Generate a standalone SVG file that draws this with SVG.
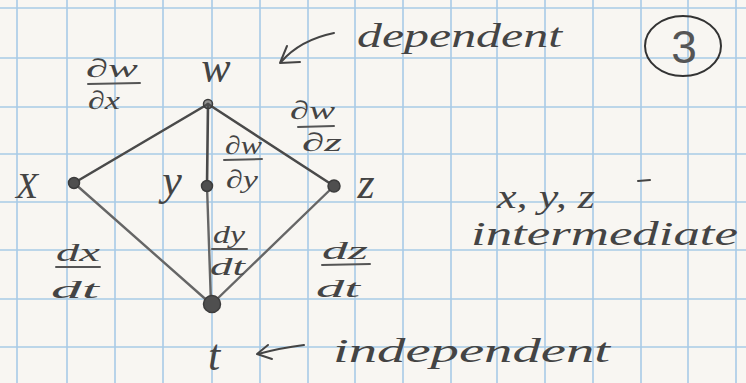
<svg xmlns="http://www.w3.org/2000/svg" width="746" height="383" viewBox="0 0 746 383">
<defs>
<style>
.grid line{stroke:#a8cbe6;stroke-width:1.6}
.edge{stroke:#4a4a4a;stroke-width:2.6;fill:none;stroke-linecap:round}
.edge2{stroke:#666;stroke-width:2.4;fill:none;stroke-linecap:round}
.dot{fill:#4f4f4f;stroke:#3c3c3c;stroke-width:1.5}
.t{font-family:"Liberation Serif","DejaVu Serif",serif;font-style:italic;fill:#444}
.lbl{font-size:36px}
.big{font-size:44px}
.frac{font-size:26px}
.bar{stroke:#555;stroke-width:2;stroke-linecap:round}
.pen{stroke:#444;stroke-width:2;fill:none;stroke-linecap:round;stroke-linejoin:round}
</style>
</defs>
<rect width="746" height="383" fill="#f8f6f2"/>
<g class="grid">
<line x1="17" y1="0" x2="17" y2="383"/><line x1="67" y1="0" x2="67" y2="383"/><line x1="115" y1="0" x2="115" y2="383"/><line x1="163" y1="0" x2="163" y2="383"/><line x1="212" y1="0" x2="212" y2="383"/><line x1="260" y1="0" x2="260" y2="383"/><line x1="308" y1="0" x2="308" y2="383"/><line x1="355" y1="0" x2="355" y2="383"/><line x1="403" y1="0" x2="403" y2="383"/><line x1="451" y1="0" x2="451" y2="383"/><line x1="497" y1="0" x2="497" y2="383"/><line x1="545" y1="0" x2="545" y2="383"/><line x1="593" y1="0" x2="593" y2="383"/><line x1="641" y1="0" x2="641" y2="383"/><line x1="688" y1="0" x2="688" y2="383"/><line x1="736" y1="0" x2="736" y2="383"/>
<line x1="0" y1="8" x2="746" y2="8"/><line x1="0" y1="58" x2="746" y2="58"/><line x1="0" y1="107" x2="746" y2="107"/><line x1="0" y1="154" x2="746" y2="154"/><line x1="0" y1="202" x2="746" y2="202"/><line x1="0" y1="250" x2="746" y2="250"/><line x1="0" y1="299" x2="746" y2="299"/><line x1="0" y1="347" x2="746" y2="347"/>
</g>
<g id="connectors">
<line class="edge" x1="208" y1="104" x2="74" y2="183"/>
<line class="edge" x1="208" y1="104" x2="207" y2="186"/>
<line class="edge" x1="208" y1="104" x2="334" y2="186"/>
<line class="edge2" x1="74" y1="183" x2="211" y2="304"/>
<line class="edge2" x1="207" y1="186" x2="211" y2="304"/>
<line class="edge2" x1="334" y1="186" x2="214" y2="302"/>
<g class="frac t">
<text x="86" y="77" textLength="52" lengthAdjust="spacingAndGlyphs">∂w</text><line class="bar" x1="88" y1="84" x2="140" y2="83"/><text x="88" y="109" textLength="32" lengthAdjust="spacingAndGlyphs">∂x</text>
<text x="225" y="154" textLength="37" lengthAdjust="spacingAndGlyphs">∂w</text><line class="bar" x1="224" y1="160" x2="262" y2="159"/><text x="226" y="188" textLength="32" lengthAdjust="spacingAndGlyphs">∂y</text>
<text x="290" y="119" textLength="45" lengthAdjust="spacingAndGlyphs">∂w</text><line class="bar" x1="298" y1="127" x2="334" y2="126"/><text x="302" y="151" textLength="40" lengthAdjust="spacingAndGlyphs">∂z</text>
<text x="56" y="261" textLength="44" lengthAdjust="spacingAndGlyphs">dx</text><line class="bar" x1="56" y1="267" x2="100" y2="267"/><text x="51" y="298" textLength="48" lengthAdjust="spacingAndGlyphs">dt</text>
<text x="213" y="243" textLength="32" lengthAdjust="spacingAndGlyphs">dy</text><line class="bar" x1="212" y1="249" x2="247" y2="249"/><text x="210" y="275" textLength="35" lengthAdjust="spacingAndGlyphs">dt</text>
<text x="322" y="259" textLength="46" lengthAdjust="spacingAndGlyphs">dz</text><line class="bar" x1="322" y1="265" x2="370" y2="264"/><text x="316" y="297" textLength="44" lengthAdjust="spacingAndGlyphs">dt</text>
</g>
</g>
<g id="node-w"><circle class="dot" cx="208" cy="104" r="4.5" fill-opacity="0.6"/><text class="t big" x="216" y="82" text-anchor="middle">w</text></g>
<g id="node-x"><circle class="dot" cx="74" cy="183" r="5.5"/><text class="t lbl" x="27" y="198" text-anchor="middle">X</text></g>
<g id="node-y"><circle class="dot" cx="207" cy="186" r="5.5"/><text class="t big" x="172" y="195" text-anchor="middle">y</text></g>
<g id="node-z"><circle class="dot" cx="334" cy="186" r="6"/><text class="t big" x="366" y="198" text-anchor="middle">z</text></g>
<g id="node-t"><circle class="dot" cx="212" cy="304" r="8.5"/><text class="t big" x="214" y="370" text-anchor="middle">t</text></g>
<g id="note-dependent">
<path class="pen" d="M334 33 Q300 40 281 62"/><path class="pen" d="M287 46 L280 63 L300 62"/>
<text class="t" x="357" y="47" font-size="34" textLength="205" lengthAdjust="spacingAndGlyphs">dependent</text>
</g>
<g id="note-independent">
<path class="pen" d="M304 345 Q280 348 258 354"/><path class="pen" d="M268 345 L257 354 L272 359"/>
<text class="t" x="333" y="362" font-size="34" textLength="277" lengthAdjust="spacingAndGlyphs">independent</text>
</g>
<g id="note-intermediate">
<text class="t" x="497" y="208" font-size="34" textLength="98" lengthAdjust="spacingAndGlyphs">x, y, z</text><line class="pen" x1="638" y1="181" x2="650" y2="180"/>
<text class="t" x="471" y="245" font-size="34" textLength="267" lengthAdjust="spacingAndGlyphs">intermediate</text>
</g>
<g id="page-number">
<ellipse cx="683" cy="46" rx="38" ry="30" fill="none" stroke="#333" stroke-width="2"/>
<text x="684" y="63" font-family="Liberation Sans, sans-serif" font-size="46" fill="#555" text-anchor="middle">3</text>
</g>
</svg>
